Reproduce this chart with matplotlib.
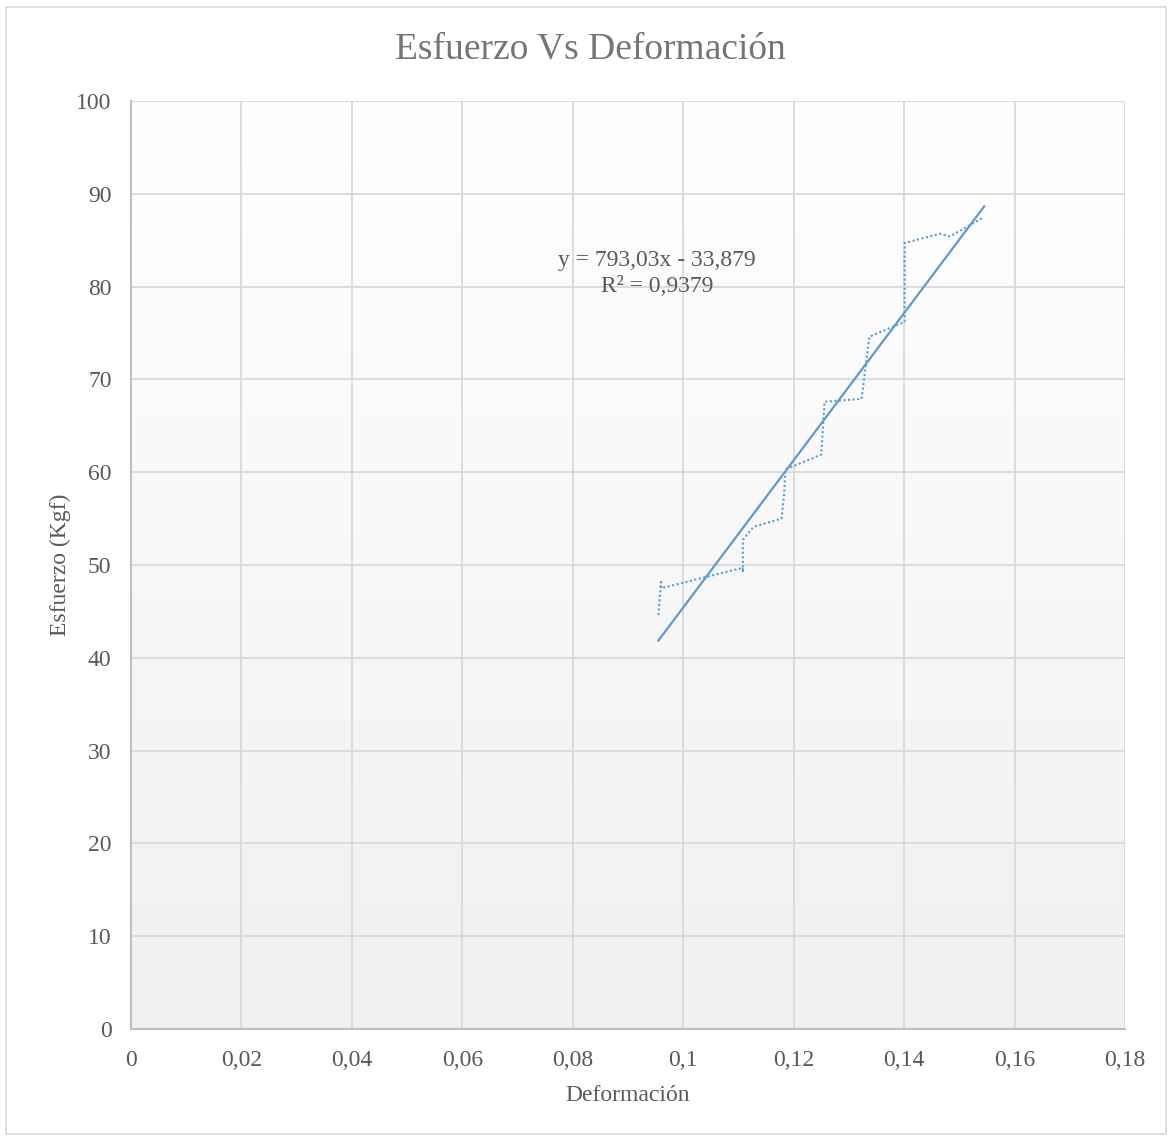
import numpy as np
import matplotlib
matplotlib.use("Agg")
import matplotlib.pyplot as plt
from matplotlib.patches import Rectangle

# Measured strain (deformación) and stress (esfuerzo) readings
deformacion = [0.0955, 0.0960, 0.0960, 0.1108, 0.1108, 0.1108, 0.1127, 0.1178,
               0.1183, 0.1185, 0.1250, 0.1256, 0.1323, 0.1337, 0.1401, 0.1401,
               0.1465, 0.1483, 0.1545]
esfuerzo = [44.6, 48.4, 47.5, 49.7, 49.2, 52.7, 54.1, 55.0,
            57.8, 60.3, 61.9, 67.6, 67.9, 74.6, 76.2, 84.7,
            85.7, 85.4, 87.5]

# Linear trendline coefficients
pendiente = 793.03
intercepto = -33.879
r2 = 0.9379

x_ticks = [0, 0.02, 0.04, 0.06, 0.08, 0.1, 0.12, 0.14, 0.16, 0.18]
x_tick_labels = ["0", "0,02", "0,04", "0,06", "0,08", "0,1", "0,12", "0,14", "0,16", "0,18"]
y_ticks = [0, 10, 20, 30, 40, 50, 60, 70, 80, 90, 100]

plt.rcParams['font.family'] = ['Liberation Serif', 'DejaVu Serif']
text_color = "#595959"
line_color = "#5b9bd5"

fig = plt.figure(figsize=(11.69, 11.36), dpi=100)
fig.patch.set_facecolor("white")
# Chart border
fig.add_artist(Rectangle((6 / 1169, 2 / 1136), 1160 / 1169, 1127 / 1136,
                         transform=fig.transFigure, fill=False,
                         edgecolor="#d9d9d9", linewidth=1.2))

ax = fig.add_axes([131 / 1169, (1136 - 1029) / 1136, 994 / 1169, 928 / 1136])
ax.set_xlim(0, 0.18)
ax.set_ylim(0, 100)

# Plot area gradient: white at the top, light grey at the bottom
grad = np.linspace(0, 1, 256).reshape(-1, 1)
ax.imshow(grad, extent=[0, 1, 0, 1], transform=ax.transAxes, aspect="auto",
          cmap=matplotlib.colors.LinearSegmentedColormap.from_list(
              "bg", ["#f0f0f0", "#ffffff"]), origin="lower", zorder=0)

ax.set_xticks(x_ticks)
ax.set_xticklabels(x_tick_labels)
ax.set_yticks(y_ticks)
ax.grid(True, color="#d9d9d9", linewidth=1.3, zorder=1)
ax.set_axisbelow(True)
for side in ["top", "right"]:
    ax.spines[side].set_visible(False)
for side in ["left", "bottom"]:
    ax.spines[side].set_color("#bfbfbf")
    ax.spines[side].set_linewidth(1.5)
ax.tick_params(length=0, labelsize=17, colors=text_color)
ax.tick_params(axis="x", pad=15)
ax.tick_params(axis="y", pad=14)

ax.plot(deformacion, esfuerzo, linestyle=(0, (1, 1.2)), color=line_color,
        linewidth=1.5, zorder=3)

x_fit = np.array([deformacion[0], deformacion[-1]])
ax.plot(x_fit, pendiente * x_fit + intercepto, color=line_color,
        linewidth=1.6, zorder=4)

ax.text(0.0953, 81.4, "y = 793,03x - 33,879\nR² = 0,9379", ha="center",
        va="center", fontsize=17, color=text_color, linespacing=1.3, zorder=5)

ax.set_xlabel("Deformación", fontsize=17, color=text_color, labelpad=10)
ax.set_ylabel("Esfuerzo (Kgf)", fontsize=17, color=text_color, labelpad=4)
fig.text(590 / 1169, 1 - 49 / 1136, "Esfuerzo Vs Deformación", ha="center",
         va="center", fontsize=27, color="#757575")

fig.savefig("out.png", dpi=100, facecolor="white")
